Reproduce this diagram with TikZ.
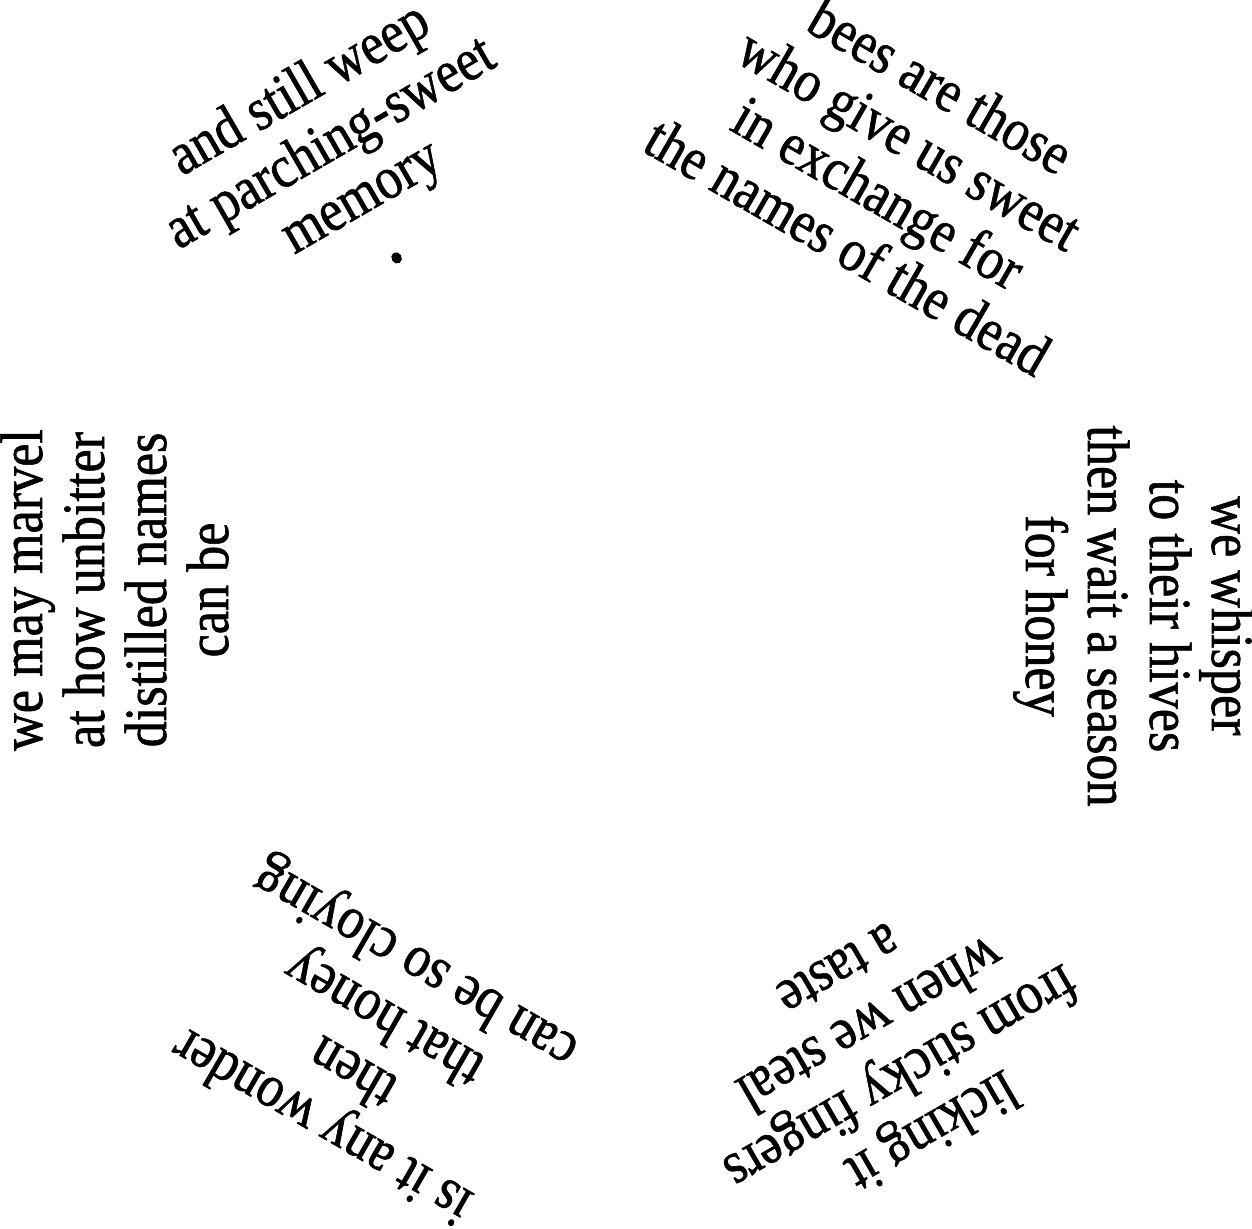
\documentclass[tikz,border=0pt]{standalone}
\usepackage{fontspec}
\setmainfont{Liberation Serif}[FakeStretch=0.87,FakeBold=1]
\begin{document}
\begin{tikzpicture}[x=1pt,y=1pt,
  verse/.style={anchor=base, inner sep=0pt, outer sep=0pt, font=\fontsize{60pt}{62pt}\selectfont},
  dotmark/.style={anchor=base, inner sep=0pt, outer sep=0pt, font=\fontsize{90pt}{62pt}\selectfont}]
\useasboundingbox (0,0) rectangle (1252,1228);
\coordinate (C) at (627,625);
% block 1: top right
\begin{scope}[shift={(C)}, rotate=-30, transform shape]
  \node[verse] (b1a) at (13,585) {bees are those};
  \node[verse] (b1b) at (13,523) {who give us sweet};
  \node[verse] (b1c) at (13,461) {in exchange for};
  \node[verse] (b1d) at (13,399) {the names of the dead};
\end{scope}
% block 2: right
\begin{scope}[shift={(C)}, rotate=-90, transform shape]
  \node[verse] (b2a) at (13,585) {we whisper};
  \node[verse] (b2b) at (13,523) {to their hives};
  \node[verse] (b2c) at (13,461) {then wait a season};
  \node[verse] (b2d) at (13,399) {for honey};
\end{scope}
% block 3: bottom right
\begin{scope}[shift={(C)}, rotate=-150, transform shape]
  \node[verse] (b3a) at (0,592) {licking it};
  \node[verse] (b3b) at (0,530) {from sticky fingers};
  \node[verse] (b3c) at (0,468) {when we steal};
  \node[verse] (b3d) at (0,406) {a taste};
\end{scope}
% block 4: bottom left
\begin{scope}[shift={(C)}, rotate=150, transform shape]
  \node[verse] (b4a) at (3,588) {is it any wonder};
  \node[verse] (b4b) at (3,526) {then};
  \node[verse] (b4c) at (3,464) {that honey};
  \node[verse] (b4d) at (3,402) {can be so cloying};
\end{scope}
% block 5: left
\begin{scope}[shift={(C)}, rotate=90, transform shape]
  \node[verse] (b5a) at (13,585) {we may marvel};
  \node[verse] (b5b) at (13,523) {at how unbitter};
  \node[verse] (b5c) at (13,461) {distilled names};
  \node[verse] (b5d) at (13,399) {can be};
\end{scope}
% block 6: top left
\begin{scope}[shift={(C)}, rotate=30, transform shape]
  \node[verse] (b6a) at (-27,592) {and still weep};
  \node[verse] (b6b) at (-27,530) {at parching-sweet};
  \node[verse] (b6c) at (-27,468) {memory};
  \node[dotmark] (b6d) at (-27,410) {.};
\end{scope}
\end{tikzpicture}
\end{document}
